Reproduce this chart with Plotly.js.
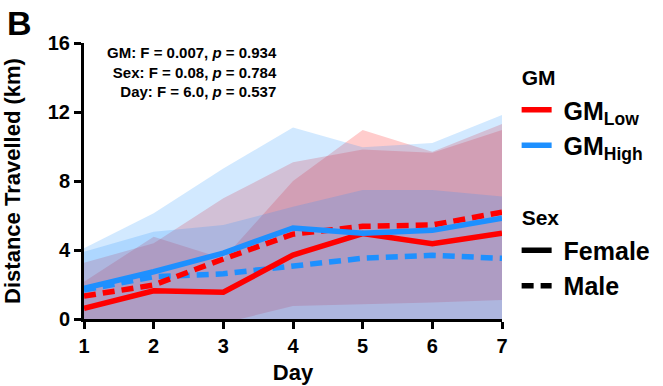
<!DOCTYPE html>
<html>
<head>
<meta charset="utf-8">
<script src="https://cdn.plot.ly/plotly-3.0.1.min.js"></script>
<style>html,body{margin:0;padding:0;background:#fff;}#chart{width:663px;height:386px;}</style>
</head>
<body>
<div id="chart"></div>
<script>
// ---- data ----
const days = [1, 2, 3, 4, 5, 6, 7];

// GM Low, Female (solid red)
const lowFemaleMean  = [0.62, 1.64, 1.55, 3.71, 4.95, 4.37, 4.98];
const lowFemaleUpper = [2.16, 4.77, 3.50, 8.00, 10.96, 9.70, 11.30];
const lowFemaleLower = [-0.9, -1.5, -0.4, -0.6, -1.0, -0.9, -1.3];

// GM Low, Male (dashed red)
const lowMaleMean  = [1.33, 1.97, 3.48, 4.92, 5.37, 5.45, 6.19];
const lowMaleUpper = [3.26, 4.39, 7.00, 9.08, 9.83, 9.64, 10.96];
const lowMaleLower = [-0.6, -0.45, -0.24, 0.75, 0.87, 0.95, 1.10];

// GM High, Female (solid blue)
const highFemaleMean  = [1.78, 2.74, 3.82, 5.28, 4.97, 5.14, 5.84];
const highFemaleUpper = [4.10, 6.13, 8.73, 11.10, 9.95, 10.20, 11.83];
const highFemaleLower = [-0.5, -0.6, -1.1, -0.5, 0.0, 0.0, -0.2];

// GM High, Male (dashed blue)
const highMaleMean  = [1.68, 2.45, 2.62, 3.09, 3.52, 3.69, 3.52];
const highMaleUpper = [3.90, 5.06, 5.45, 6.51, 7.48, 7.48, 7.10];
const highMaleLower = [-0.5, -0.2, -0.2, -0.3, -0.5, -0.1, -0.1];

const yTicks = [0, 4, 8, 12, 16];

const statLines = [
  'GM: F = 0.007, <i>p</i> = 0.934',
  'Sex: F = 0.08, <i>p</i> = 0.784',
  'Day: F = 6.0, <i>p</i> = 0.537'
];

// ---- styling ----
const RED = 'rgb(255,0,0)';
const BLUE = 'rgb(30,144,255)';
const RED_FILL = 'rgba(255,0,0,0.2)';
const BLUE_FILL = 'rgba(30,144,255,0.2)';
const FONT = 'Liberation Sans, Arial, Helvetica, sans-serif';
const DASH = '12px,7px';
const LW = 5.5;
const SP = '&nbsp;';

function band(upper, lower, fill) {
  return {
    x: days.concat(days.slice().reverse()),
    y: upper.concat(lower.slice().reverse()),
    type: 'scatter', mode: 'lines', fill: 'toself', fillcolor: fill,
    line: {width: 0, color: 'rgba(0,0,0,0)'},
    hoverinfo: 'skip', showlegend: false
  };
}
function line(y, color, dash, extra) {
  return Object.assign({
    x: days, y: y, type: 'scatter', mode: 'lines',
    line: {color: color, width: LW, dash: dash},
    showlegend: false
  }, extra || {});
}
const groupTitleFont = {size: 21, family: FONT, weight: 700, color: '#000'};

const traces = [
  band(lowFemaleUpper, lowFemaleLower, RED_FILL),
  band(lowMaleUpper, lowMaleLower, RED_FILL),
  band(highFemaleUpper, highFemaleLower, BLUE_FILL),
  band(highMaleUpper, highMaleLower, BLUE_FILL),
  line(highMaleMean, BLUE, DASH),
  line(lowMaleMean, RED, DASH),
  line(lowFemaleMean, RED, 'solid', {showlegend: true, name: SP + 'GM<sub>Low</sub>',
       legendgroup: 'gm', legendgrouptitle: {text: 'GM', font: groupTitleFont}}),
  line(highFemaleMean, BLUE, 'solid', {showlegend: true, name: SP + 'GM<sub>High</sub>', legendgroup: 'gm'}),
  {x: [null], y: [null], type: 'scatter', mode: 'lines', line: {color: '#000', width: LW, dash: 'solid'},
   name: SP + 'Female', legendgroup: 'sex', showlegend: true,
   legendgrouptitle: {text: 'Sex', font: groupTitleFont}},
  {x: [null], y: [null], type: 'scatter', mode: 'lines', line: {color: '#000', width: LW, dash: DASH},
   name: SP + 'Male', legendgroup: 'sex', showlegend: true}
];

const axisCommon = {
  showline: true, linecolor: '#000', linewidth: 3, mirror: false,
  ticks: 'outside', ticklen: 7, tickwidth: 3, tickcolor: '#000',
  showgrid: false, zeroline: false,
  tickfont: {family: FONT, size: 20, weight: 700, color: '#000'}
};

const layout = {
  width: 663, height: 386,
  margin: {l: 84, r: 161, t: 43, b: 67, autoexpand: false},
  paper_bgcolor: '#fff', plot_bgcolor: '#fff',
  font: {family: FONT, color: '#000'},
  xaxis: Object.assign({}, axisCommon, {
    range: [1, 7], tickvals: days,
    title: {text: 'Day', font: {family: FONT, size: 22, weight: 700, color: '#000'}, standoff: 9}
  }),
  yaxis: Object.assign({}, axisCommon, {
    range: [0, 16], tickvals: yTicks,
    automargin: true,
    title: {text: 'Distance Travelled (km)', font: {family: FONT, size: 22, weight: 700, color: '#000'}, standoff: 22}
  }),
  legend: {
    x: 1.035, y: 0.95, xanchor: 'left', yanchor: 'top',
    font: {family: FONT, size: 25, weight: 700, color: '#000'},
    traceorder: 'grouped', tracegroupgap: 39,
    bgcolor: 'rgba(0,0,0,0)', itemwidth: 30
  },
  annotations: [
    {xref: 'paper', yref: 'paper', x: 0.466, y: 1.003, xanchor: 'right', yanchor: 'top',
     align: 'right', showarrow: false, text: statLines.join('<br>'),
     font: {family: FONT, size: 15, weight: 700, color: '#000'}},
    {xref: 'paper', yref: 'paper', x: -0.19, y: 1.15, xanchor: 'left', yanchor: 'top',
     showarrow: false, text: 'B', font: {family: FONT, size: 34, weight: 700, color: '#000'}}
  ],
  showlegend: true
};

Plotly.newPlot('chart', traces, layout, {displayModeBar: false, staticPlot: true});
</script>
</body>
</html>
